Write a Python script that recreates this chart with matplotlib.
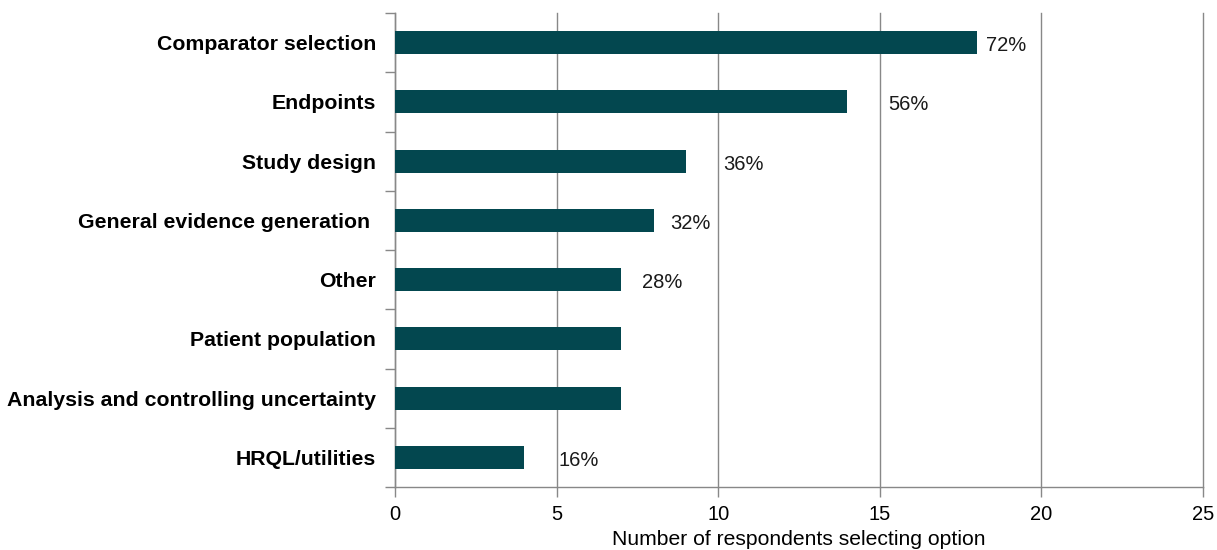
import matplotlib
matplotlib.use("Agg")
import matplotlib.pyplot as plt
import numpy as np

categories = ["Comparator selection", "Endpoints", "Study design", "General evidence generation ",
              "Other", "Patient population", "Analysis and controlling uncertainty", "HRQL/utilities"]
values = [18, 14, 9, 8, 7, 7, 7, 4]
pct_labels = ["72%", "56%", "36%", "32%", "28%", "", "", "16%"]
pct_x = [18.3, 15.25, 10.15, 8.5, 7.65, None, None, 5.05]
xticks = [0, 5, 10, 15, 20, 25]

plt.rcParams['font.family'] = ['Liberation Sans', 'DejaVu Sans']

fig = plt.figure(figsize=(12.17, 5.5), dpi=100)
ax = fig.add_axes([395/1217, 1-487/550, (1203-395)/1217, (487-13)/550])

n = len(categories)
y = np.arange(n)
ax.barh(y, values, height=0.39, color="#03474F", zorder=3)
for yi, lab, xp in zip(y, pct_labels, pct_x):
    if lab:
        ax.text(xp, yi + 0.05, lab, va="center", ha="left", fontsize=14.5, color="#1a1a1a")

ax.set_xlim(0, 25)
ax.set_ylim(n - 0.5, -0.5)
ax.set_xticks(xticks)
ax.set_yticks(y)
ax.set_yticklabels(categories, fontsize=15.3, fontweight="bold")
ax.set_yticks(np.arange(n + 1) - 0.5, minor=True)
ax.tick_params(axis="y", which="major", length=0, pad=13.5)
ax.tick_params(axis="y", which="minor", length=7, color="#888888", width=1)
ax.tick_params(axis="x", length=7, color="#888888", width=1, labelsize=14.5, pad=6)
ax.grid(axis="x", color="#888888", linewidth=1, zorder=0)
for gl in ax.get_xgridlines():
    gl.set_clip_on(False)
for s in ["top", "right"]:
    ax.spines[s].set_visible(False)
for s in ["left", "bottom"]:
    ax.spines[s].set_color("#888888")
    ax.spines[s].set_linewidth(1)
ax.set_xlabel("Number of respondents selecting option", fontsize=15.2, labelpad=4)

fig.savefig("out.png", dpi=100)
